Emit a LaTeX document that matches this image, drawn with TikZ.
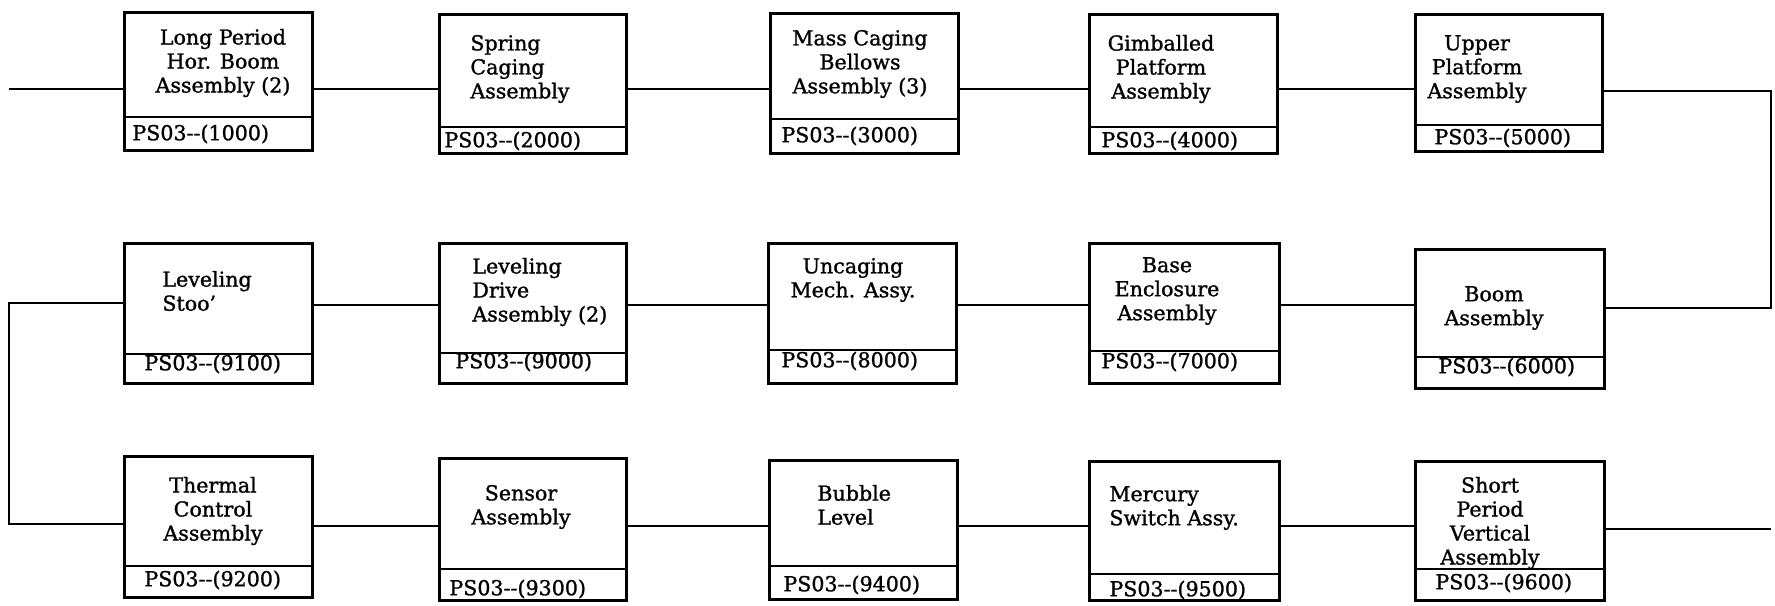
\documentclass[tikz,border=0pt]{standalone}
\usepackage{fontspec}
\setmainfont{DejaVu Serif}[FakeBold=1.2]
\usetikzlibrary{fit}
\tikzset{
  boxfit/.style={draw=black, line width=1.5pt, inner sep=0pt, rectangle},
  divline/.style={draw=black, line width=1.2pt},
  conn/.style={draw=black, line width=1.1pt},
  txt/.style={inner sep=0pt, font=\fontsize{10.3}{12}\selectfont},
  lbl/.style={inner sep=0pt, anchor=west, font=\fontsize{10.3}{12}\selectfont},
}
\newcommand\pbox[6]{%
  \node[boxfit, fit={(#2,#3) (#4,#5)}] (#1) {};
  \draw[divline] (#2,#6) -- (#4,#6);
}
\begin{document}
\begin{tikzpicture}[x=0.5pt, y=-0.5pt]
\useasboundingbox (0,0) rectangle (1775,605);
% Row 1
\pbox{b1000}{124}{12}{312}{150}{117}
\pbox{b2000}{439}{14}{626}{153}{127}
\pbox{b3000}{770}{13}{958}{153}{119}
\pbox{b4000}{1089}{14}{1277}{153}{127}
\pbox{b5000}{1415}{14}{1602}{151}{125}
% Row 2
\pbox{b9100}{124}{243}{312}{383}{354}
\pbox{b9000}{439}{243}{626}{383}{353}
\pbox{b8000}{768}{243}{956}{383}{350}
\pbox{b7000}{1089}{243}{1279}{383}{351}
\pbox{b6000}{1415}{249}{1604}{388}{357}
% Row 3
\pbox{b9200}{124}{456}{312}{597}{566}
\pbox{b9300}{439}{458}{626}{600}{569}
\pbox{b9400}{769}{460}{957}{599}{566}
\pbox{b9500}{1089}{461}{1279}{600}{574}
\pbox{b9600}{1415}{461}{1604}{600}{569}

% Titles
\node[txt, align=center] (t1000) at (223,63) {Long Period\\Hor. Boom\\Assembly (2)};
\node[txt, align=left, anchor=west] (t2000) at (470,69) {Spring\\Caging\\Assembly};
\node[txt, align=center] (t3000) at (860,64) {Mass Caging\\Bellows\\Assembly (3)};
\node[txt, align=center] (t4000) at (1161,69) {Gimballed\\Platform\\Assembly};
\node[txt, align=center] (t5000) at (1477,69) {Upper\\Platform\\Assembly};
\node[txt, align=left, anchor=west] (t9100) at (162,291) {Leveling\\Stoo'};
\node[txt, align=left, anchor=west] (t9000) at (472,292) {Leveling\\Drive\\Assembly (2)};
\node[txt, align=center] (t8000) at (853,280) {Uncaging\\Mech. Assy.};
\node[txt, align=center] (t7000) at (1167,291) {Base\\Enclosure\\Assembly};
\node[txt, align=center] (t6000) at (1494,308) {Boom\\Assembly};
\node[txt, align=center] (t9200) at (213,511) {Thermal\\Control\\Assembly};
\node[txt, align=center] (t9300) at (521,507) {Sensor\\Assembly};
\node[txt, align=left, anchor=west] (t9400) at (817,505) {Bubble\\Level};
\node[txt, align=left, anchor=west] (t9500) at (1109,508) {Mercury\\Switch Assy.};
\node[txt, align=center] (t9600) at (1490,523) {Short\\Period\\Vertical\\Assembly};

% Part numbers
\node[lbl] (l1000) at (132,134) {PS03-{}-(1000)};
\node[lbl] (l2000) at (444,141) {PS03-{}-(2000)};
\node[lbl] (l3000) at (781,136) {PS03-{}-(3000)};
\node[lbl] (l4000) at (1101,141) {PS03-{}-(4000)};
\node[lbl] (l5000) at (1434,138) {PS03-{}-(5000)};
\node[lbl] (l9100) at (144,364) {PS03-{}-(9100)};
\node[lbl] (l9000) at (455,362) {PS03-{}-(9000)};
\node[lbl] (l8000) at (781,361) {PS03-{}-(8000)};
\node[lbl] (l7000) at (1101,362) {PS03-{}-(7000)};
\node[lbl] (l6000) at (1438,367) {PS03-{}-(6000)};
\node[lbl] (l9200) at (144,580) {PS03-{}-(9200)};
\node[lbl] (l9300) at (449,589) {PS03-{}-(9300)};
\node[lbl] (l9400) at (783,585) {PS03-{}-(9400)};
\node[lbl] (l9500) at (1109,590) {PS03-{}-(9500)};
\node[lbl] (l9600) at (1435,583) {PS03-{}-(9600)};

% Row reference coordinates
\coordinate (r1) at (0,89);
\coordinate (r2) at (0,305);
\coordinate (r3) at (0,526);
\coordinate (inStart) at (9,89);
\coordinate (rc1) at (1771,91);
\coordinate (rc2) at (1771,308);
\coordinate (lc1) at (9,303);
\coordinate (lc2) at (9,524);
\coordinate (outEnd) at (1771,529);

% Connectors
\draw[conn] (inStart) -- (b1000.west |- r1);
\draw[conn] (b1000.east |- r1) -- (b2000.west |- r1);
\draw[conn] (b2000.east |- r1) -- (b3000.west |- r1);
\draw[conn] (b3000.east |- r1) -- (b4000.west |- r1);
\draw[conn] (b4000.east |- r1) -- (b5000.west |- r1);
\draw[conn] (b5000.east |- rc1) -- (rc1) -- (rc2) -- (b6000.east |- rc2);
\draw[conn] (b6000.west |- r2) -- (b7000.east |- r2);
\draw[conn] (b7000.west |- r2) -- (b8000.east |- r2);
\draw[conn] (b8000.west |- r2) -- (b9000.east |- r2);
\draw[conn] (b9000.west |- r2) -- (b9100.east |- r2);
\draw[conn] (b9100.west |- lc1) -- (lc1) -- (lc2) -- (b9200.west |- lc2);
\draw[conn] (b9200.east |- r3) -- (b9300.west |- r3);
\draw[conn] (b9300.east |- r3) -- (b9400.west |- r3);
\draw[conn] (b9400.east |- r3) -- (b9500.west |- r3);
\draw[conn] (b9500.east |- r3) -- (b9600.west |- r3);
\draw[conn] (b9600.east |- outEnd) -- (outEnd);
\end{tikzpicture}
\end{document}
